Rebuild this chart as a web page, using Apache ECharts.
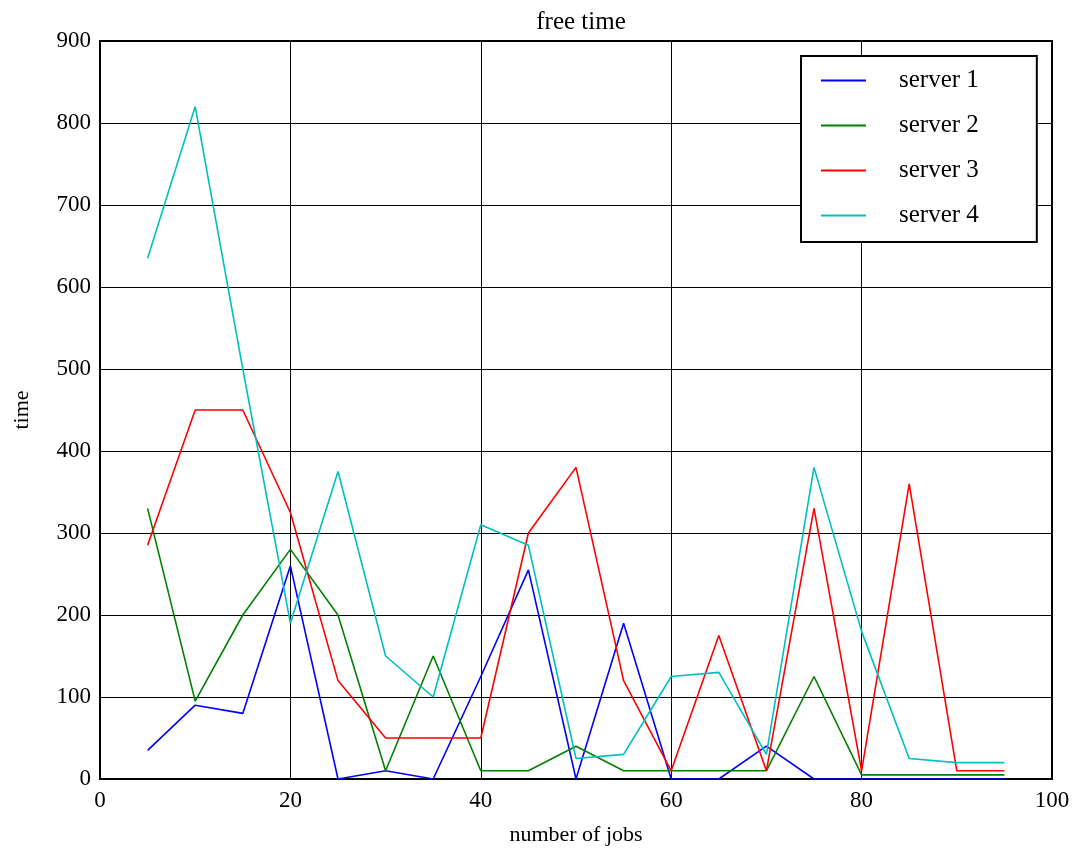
<!DOCTYPE html>
<html>
<head>
<meta charset="utf-8">
<script src="https://cdn.jsdelivr.net/npm/echarts@6/dist/echarts.min.js"></script>
<style>
html,body{margin:0;padding:0;background:#fff;}
#chart{width:1083px;height:851px;}
</style>
</head>
<body>
<div id="chart"></div>
<script>
const jobs = [5,10,15,20,25,30,35,40,45,50,55,60,65,70,75,80,85,90,95];
const server1 = [35,90,80,260,0,10,0,125,255,0,190,0,0,40,0,0,0,0,0];
const server2 = [330,95,200,280,200,10,150,10,10,40,10,10,10,10,125,5,5,5,5];
const server3 = [285,450,450,325,120,50,50,50,300,380,120,10,175,10,330,10,360,10,10];
const server4 = [635,820,500,190,375,150,100,310,285,25,30,125,130,30,380,180,25,20,20];
const seriesNames = ['server 1','server 2','server 3','server 4'];
const seriesColors = ['#0000ff','#008000','#ff0000','#00bfbf'];
const seriesData = [server1, server2, server3, server4];

const font = '"Liberation Serif", "DejaVu Serif", serif';
const chart = echarts.init(document.getElementById('chart'), null, {renderer:'canvas'});
chart.setOption({
  animation:false,
  backgroundColor:'#ffffff',
  title:{
    text:'free time', left:576, top:5, textAlign:'center',
    textStyle:{fontFamily:font, fontSize:25, fontWeight:'normal', color:'#000'}
  },
  grid:{left:100, right:31, top:41, bottom:72, show:true, borderColor:'#000', borderWidth:2,
        backgroundColor:'transparent', containLabel:false, outerBoundsMode:'none'},
  legend:{
    orient:'vertical', left:801, top:56,
    data:seriesNames,
    icon:'rect', itemWidth:45, itemHeight:2, itemGap:20,
    padding:[12,58,14,20],
    backgroundColor:'#fff', borderColor:'#000', borderWidth:2, borderRadius:0,
    textStyle:{fontFamily:font, fontSize:25, color:'#000', padding:[0,0,0,28]}
  },
  xAxis:{
    type:'value', min:0, max:100, interval:20,
    name:'number of jobs', nameLocation:'middle', nameGap:45,
    nameTextStyle:{fontFamily:font, fontSize:22, color:'#000'},
    axisLine:{show:true, lineStyle:{color:'#000', width:2}},
    axisTick:{show:true, inside:true, length:6, lineStyle:{color:'#000'}},
    axisLabel:{fontFamily:font, fontSize:23, color:'#000', margin:10},
    splitLine:{show:true, lineStyle:{color:'#000', width:1}}
  },
  yAxis:{
    type:'value', min:0, max:900, interval:100,
    name:'time', nameLocation:'middle', nameGap:67,
    nameTextStyle:{fontFamily:font, fontSize:22, color:'#000'},
    axisLine:{show:true, lineStyle:{color:'#000', width:2}},
    axisTick:{show:true, inside:true, length:6, lineStyle:{color:'#000'}},
    axisLabel:{fontFamily:font, fontSize:23, color:'#000', margin:9},
    splitLine:{show:true, lineStyle:{color:'#000', width:1}}
  },
  series: seriesNames.map((n,i)=>({
    name:n, type:'line', symbol:'none', showSymbol:false,
    data: jobs.map((x,j)=>[x, seriesData[i][j]]),
    lineStyle:{color:seriesColors[i], width:1.6},
    itemStyle:{color:seriesColors[i]},
    emphasis:{disabled:true}
  }))
});
</script>
</body>
</html>
